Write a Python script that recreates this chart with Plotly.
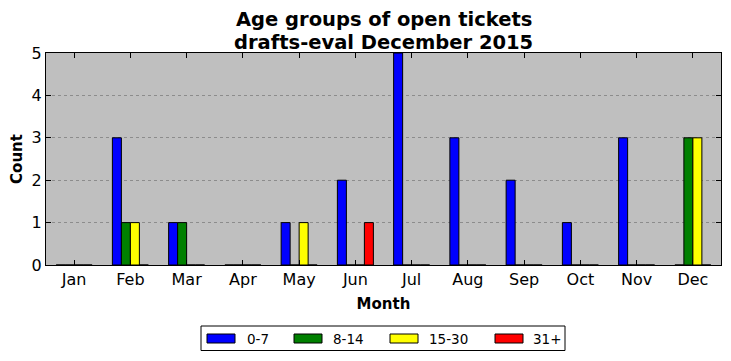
import plotly.graph_objects as go

months = ["Jan", "Feb", "Mar", "Apr", "May", "Jun", "Jul", "Aug", "Sep", "Oct", "Nov", "Dec"]
series_names = ["0-7", "8-14", "15-30", "31+"]
age_0_7 = [0, 3, 1, 0, 1, 2, 5, 3, 2, 1, 3, 0]
age_8_14 = [0, 1, 1, 0, 0, 0, 0, 0, 0, 0, 0, 3]
age_15_30 = [0, 1, 0, 0, 1, 0, 0, 0, 0, 0, 0, 3]
age_31_plus = [0, 0, 0, 0, 0, 1, 0, 0, 0, 0, 0, 0]
colors = ["#0000ff", "#008000", "#ffff00", "#ff0000"]

OFF = 8  # page body margin of the browser
W, H = 731 - OFF, 361 - OFF
L, R, T, B = 46 - OFF, 10, 53 - OFF, 96
font = "DejaVu Sans, Liberation Sans, sans-serif"

fig = go.Figure()
for name, vals, col in zip(series_names, [age_0_7, age_8_14, age_15_30, age_31_plus], colors):
    fig.add_trace(go.Bar(x=months, y=vals, name=name, showlegend=False,
                         marker=dict(color=col, line=dict(color="black", width=1))))

pw, ph = W - L - R, H - T - B
def px(x):
    return (x - OFF - L) / pw
def py(y):
    return (H - B - (y - OFF)) / ph

annotations = [
    dict(text="<b>Age groups of open tickets</b>", x=0.5, xref="paper", xanchor="center",
         y=py(20), yref="paper", yanchor="middle", showarrow=False,
         font=dict(size=19.5, family=font, color="black")),
    dict(text="<b>drafts-eval December 2015</b>", x=0.5, xref="paper", xanchor="center",
         y=py(42), yref="paper", yanchor="middle", showarrow=False,
         font=dict(size=19.5, family=font, color="black")),
]
shapes = [dict(type="rect", xref="paper", yref="paper", x0=px(201), x1=px(565),
               y0=py(326), y1=py(350.5), line=dict(color="black", width=1), fillcolor="white")]
patch_x = [207, 294, 390, 495]
text_x = [245, 331, 427, 531]
for name, col, p, t in zip(series_names, colors, patch_x, text_x):
    shapes.append(dict(type="rect", xref="paper", yref="paper", x0=px(p), x1=px(p + 28),
                       y0=py(334), y1=py(343), line=dict(color="black", width=1), fillcolor=col))
    annotations.append(dict(text=name, x=px(t), xref="paper", xanchor="left",
                            y=py(338.5), yref="paper", yanchor="middle", showarrow=False,
                            font=dict(size=13.5, family=font, color="black")))

fig.update_layout(
    width=W, height=H,
    margin=dict(l=L, r=R, t=T, b=B),
    paper_bgcolor="white", plot_bgcolor="#bfbfbf",
    barmode="group", bargap=0.36, bargroupgap=0,
    font=dict(family=font, color="black", size=15),
    showlegend=False,
    annotations=annotations, shapes=shapes,
)
fig.update_xaxes(
    title=dict(text="<b>Month</b>", font=dict(size=15), standoff=10),
    range=[-0.5, 11.5], showline=True, linecolor="black", linewidth=1, mirror="ticks",
    ticks="inside", ticklen=5, tickcolor="black", showgrid=False, automargin=False,
    tickfont=dict(size=16),
)
fig.update_yaxes(
    title=dict(text="<b>Count</b>", font=dict(size=15), standoff=6),
    range=[0, 5], dtick=1, showline=True, linecolor="black", linewidth=1, mirror="ticks",
    ticks="inside", ticklen=5, tickcolor="black", automargin=False,
    showgrid=True, gridcolor="#8c8c8c", griddash="dot", gridwidth=1,
    zeroline=False, tickfont=dict(size=16),
)
fig.write_html("out.html")
